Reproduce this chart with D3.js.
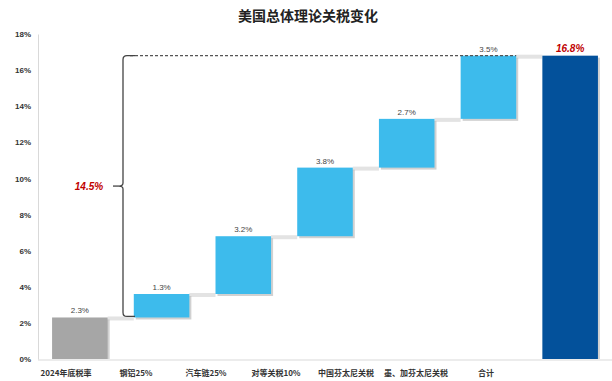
<!DOCTYPE html>
<html><head><meta charset="utf-8">
<script src="https://cdn.jsdelivr.net/npm/d3@7"></script>
<style>
body{margin:0;background:#fff;}
text{font-family:"Noto Sans CJK SC","Noto Sans",sans-serif;}
</style></head>
<body><svg id="c" width="612" height="381"></svg>
<script>
const categories = ["2024年底税率","钢铝25%","汽车链25%","对等关税10%","中国芬太尼关税","墨、加芬太尼关税","合计"];
const values = [2.3, 1.3, 3.2, 3.8, 2.7, 3.5, 16.8];
const kinds = ["base","inc","inc","inc","inc","inc","total"];
const yTicks = [0,2,4,6,8,10,12,14,16,18];
const title = "美国总体理论关税变化";
const braceLabel = "14.5%";

const colors = {base:"#a6a6a6", inc:"#3dbbec", total:"#03519b"};
const svg = d3.select("#c");

const x = d3.scaleBand().domain(categories).range([39, 611]).paddingInner(0.32).paddingOuter(0.16);
const xl = d3.scalePoint().domain(categories).range([66, 486]);
const y = d3.scaleLinear().domain([0, 18]).range([359, 34]);

// compute waterfall
let cum = 0;
const bars = categories.map((c, i) => {
  let lo, hi;
  if (kinds[i] === "inc") { lo = cum; hi = cum + values[i]; cum = hi; }
  else if (kinds[i] === "base") { lo = 0; hi = values[i]; cum = hi; }
  else { lo = 0; hi = values[i]; }
  return {c, v: values[i], lo, hi, kind: kinds[i]};
});

// title
svg.append("text").attr("x", 308).attr("y", 21).attr("text-anchor","middle")
  .attr("font-size", 14).attr("font-weight","bold").attr("fill","#222").text(title);

// axes
const yAxis = d3.axisLeft(y).tickValues(yTicks).tickFormat(d => d + "%").tickSize(0).tickPadding(7);
const gy = svg.append("g").attr("transform","translate(38,0)").call(yAxis);
gy.select(".domain").attr("stroke","#d9d9d9");
gy.selectAll("text").attr("font-size", 8).attr("font-weight","bold").attr("fill","#333")
  .style("font-family","'Liberation Sans',sans-serif");

svg.append("line").attr("x1",38).attr("x2",612).attr("y1",y(0)+1).attr("y2",y(0)+1).attr("stroke","#d9d9d9");

// connectors
for (let i = 0; i < bars.length - 1; i++) {
  const lvl = bars[i].kind === "total" ? null : (bars[i].kind === "base" ? bars[i].hi : bars[i].hi);
  svg.append("rect").attr("x", x(categories[i]) + x.bandwidth())
    .attr("width", x(categories[i+1]) - x(categories[i]) - x.bandwidth())
    .attr("y", y(lvl) - 1).attr("height", 4).attr("fill","#e3e3e3");
}

// shadows
svg.selectAll("rect.sh").data(bars).join("rect").attr("class","sh")
  .attr("x", d => x(d.c) + 2).attr("width", x.bandwidth())
  .attr("y", d => y(d.hi) + 2).attr("height", d => Math.min(y(d.lo) - y(d.hi), y(0) - y(d.hi) - 2))
  .attr("fill","#bdbdbd").attr("opacity",0.7);

// bars
svg.selectAll("rect.bar").data(bars).join("rect").attr("class","bar")
  .attr("x", d => x(d.c)).attr("width", x.bandwidth())
  .attr("y", d => y(d.hi)).attr("height", d => y(d.lo) - y(d.hi))
  .attr("fill", d => colors[d.kind]);

// value labels
svg.selectAll("text.vl").data(bars.filter(d => d.kind !== "total")).join("text").attr("class","vl")
  .attr("x", d => x(d.c) + x.bandwidth()/2).attr("y", d => y(d.hi) - 4)
  .attr("text-anchor","middle").attr("font-size", 8).attr("fill","#444")
  .style("font-family","'Liberation Sans',sans-serif")
  .text(d => d.v.toFixed(1) + "%");
const tot = bars[bars.length-1];
svg.append("text").attr("x", x(tot.c) + x.bandwidth()/2).attr("y", y(tot.hi) - 4)
  .attr("text-anchor","middle").attr("font-size", 10).attr("font-weight","bold").attr("font-style","italic")
  .attr("fill","#c00000").style("font-family","'Liberation Sans',sans-serif")
  .text(tot.v.toFixed(1) + "%");

// x labels
svg.selectAll("text.xl").data(categories).join("text").attr("class","xl")
  .attr("x", d => xl(d)).attr("y", 376).attr("text-anchor","middle")
  .attr("font-size", 8).attr("font-weight","bold").attr("fill","#333").text(d => d);

// dashed line at total
const lastInc = bars[bars.length-2];
svg.append("line").attr("x1", 130).attr("x2", x(lastInc.c) + x.bandwidth())
  .attr("y1", y(tot.hi)).attr("y2", y(tot.hi))
  .attr("stroke","#555").attr("stroke-width",1.2).attr("stroke-dasharray","3,2");

// brace
const bx = 123, yTop = y(tot.hi), yBot = y(bars[0].hi) - 1, yMid = (yTop + yBot)/2;
const r = 4;
const p = d3.path();
p.moveTo(bx + 12, yTop);
p.lineTo(bx + r, yTop);
p.quadraticCurveTo(bx, yTop, bx, yTop + r);
p.lineTo(bx, yMid - 3);
p.quadraticCurveTo(bx, yMid, bx - 4, yMid);
p.quadraticCurveTo(bx, yMid, bx, yMid + 3);
p.lineTo(bx, yBot - r);
p.quadraticCurveTo(bx, yBot, bx + r, yBot);
p.lineTo(bx + 12, yBot);
svg.append("path").attr("d", p.toString()).attr("fill","none").attr("stroke","#444").attr("stroke-width",1.3);
svg.append("line").attr("x1", bx - 10).attr("x2", bx - 4).attr("y1", yMid).attr("y2", yMid)
  .attr("stroke","#444").attr("stroke-width",1.3);
svg.append("text").attr("x", 89).attr("y", yMid + 4).attr("text-anchor","middle")
  .attr("font-size", 10).attr("font-weight","bold").attr("font-style","italic")
  .attr("fill","#c00000").style("font-family","'Liberation Sans',sans-serif").text(braceLabel);
</script></body></html>
